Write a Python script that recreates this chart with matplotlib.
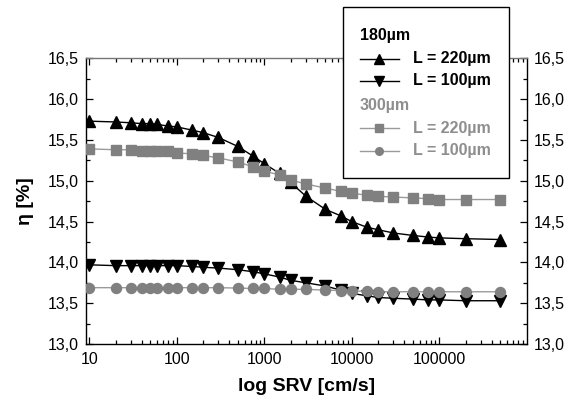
import numpy as np
import matplotlib
matplotlib.use("Agg")
import matplotlib.pyplot as plt
from matplotlib.lines import Line2D
from matplotlib.patches import Rectangle
from matplotlib.ticker import FixedLocator, LogLocator, NullFormatter, FuncFormatter, MultipleLocator

plt.rcParams['font.family'] = ['Liberation Sans', 'DejaVu Sans']

# SRV values [cm/s]
srv = [10, 20, 30, 40, 50, 60, 80, 100, 150, 200, 300, 500, 750, 1000, 1500, 2000,
       3000, 5000, 7500, 10000, 15000, 20000, 30000, 50000, 75000, 100000, 200000, 500000]

# 180 µm wafer
eta_180_L220 = [15.73, 15.72, 15.71, 15.70, 15.70, 15.69, 15.67, 15.66, 15.62, 15.59, 15.53,
                15.42, 15.30, 15.21, 15.09, 14.98, 14.81, 14.65, 14.57, 14.50, 14.43, 14.40,
                14.36, 14.33, 14.31, 14.30, 14.29, 14.28]
eta_180_L100 = [13.97, 13.96, 13.96, 13.96, 13.96, 13.96, 13.96, 13.96, 13.95, 13.94, 13.93,
                13.91, 13.885, 13.86, 13.82, 13.78, 13.75, 13.71, 13.66, 13.62, 13.59, 13.57,
                13.56, 13.55, 13.54, 13.54, 13.53, 13.53]

# 300 µm wafer
eta_300_L220 = [15.39, 15.38, 15.38, 15.37, 15.37, 15.37, 15.36, 15.34, 15.33, 15.31, 15.28,
                15.23, 15.17, 15.12, 15.07, 15.01, 14.96, 14.91, 14.87, 14.85, 14.82, 14.81,
                14.80, 14.79, 14.78, 14.77, 14.77, 14.77]
eta_300_L100 = [13.69, 13.69, 13.69, 13.69, 13.69, 13.69, 13.69, 13.69, 13.69, 13.69, 13.69,
                13.685, 13.68, 13.68, 13.67, 13.67, 13.67, 13.66, 13.655, 13.65, 13.645, 13.64,
                13.64, 13.64, 13.64, 13.64, 13.64, 13.64]

x_ticks = [10, 100, 1000, 10000, 100000]

W, H = 576, 401
BLACK = 'black'
GRAY = '#808080'
GRAY_LINE = '#9a9a9a'
GRAY_TEXT = '#8e8e8e'

fig = plt.figure(figsize=(W / 100, H / 100), dpi=100)
ax = fig.add_axes([86 / W, 1 - 344 / H, (526.7 - 86) / W, (344 - 58.3) / H])

ax.plot(srv, eta_180_L220, color=BLACK, lw=1.0, marker='^', ms=8.5, mec=BLACK, zorder=3)
ax.plot(srv, eta_180_L100, color=BLACK, lw=1.0, marker='v', ms=8.5, mec=BLACK, zorder=3)
ax.plot(srv, eta_300_L220, color=GRAY_LINE, lw=1.0, marker='s', ms=7.5, mfc=GRAY, mec=GRAY, zorder=4)
ax.plot(srv, eta_300_L100, color=GRAY_LINE, lw=1.0, marker='o', ms=7.2, mfc=GRAY, mec=GRAY, zorder=4)

ax.set_xscale('log')
ax.set_xlim(9.2, 1e6)
ax.set_ylim(13.0, 16.5)

ax.xaxis.set_major_locator(FixedLocator(x_ticks))
ax.xaxis.set_major_formatter(FuncFormatter(lambda v, p: f"{int(round(v))}"))
ax.xaxis.set_minor_locator(LogLocator(base=10, subs=np.arange(2, 10), numticks=20))
ax.xaxis.set_minor_formatter(NullFormatter())

ax.yaxis.set_major_locator(MultipleLocator(0.5))
ax.yaxis.set_minor_locator(MultipleLocator(0.25))
ax.yaxis.set_major_formatter(FuncFormatter(lambda v, p: f"{v:.1f}".replace('.', ',')))

ax.tick_params(which='both', direction='in', top=True, right=True, labelright=True,
               labelsize=11.5, width=0.9, color=BLACK)
ax.tick_params(which='major', length=5, pad=5)
ax.tick_params(which='minor', length=3)
ax.tick_params(axis='x', pad=6)

for side in ['left', 'right', 'bottom']:
    ax.spines[side].set_linewidth(1.0)
ax.spines['top'].set_color('#777777')
ax.spines['top'].set_linewidth(1.0)

ax.set_xlabel('log SRV [cm/s]', fontsize=14, fontweight='bold', labelpad=8)
ax.set_ylabel('η [%]', fontsize=14, fontweight='bold', labelpad=10)


# legend drawn by hand in figure pixel coordinates
def fx(px):
    return px / W


def fy(py):
    return 1 - py / H


fig.patches.append(Rectangle((fx(343.3), fy(177.7)), fx(509.3) - fx(343.3), fy(7.3) - fy(177.7),
                             transform=fig.transFigure, facecolor='white', edgecolor=BLACK,
                             linewidth=1.0, zorder=10))

rows = [
    ('180µm', None, None, BLACK, 35.7),
    ('L = 220µm', '^', BLACK, BLACK, 58.5),
    ('L = 100µm', 'v', BLACK, BLACK, 81.0),
    ('300µm', None, None, GRAY_TEXT, 105.5),
    ('L = 220µm', 's', GRAY, GRAY_TEXT, 128.3),
    ('L = 100µm', 'o', GRAY, GRAY_TEXT, 151.0),
]
for label, mk, mcol, tcol, py in rows:
    if mk is None:
        fig.text(fx(360), fy(py), label, color=tcol, fontsize=11.5, fontweight='bold',
                 ha='left', va='center', zorder=11)
        continue
    lcol = BLACK if mcol == BLACK else GRAY_LINE
    fig.add_artist(Line2D([fx(360), fx(398.5)], [fy(py), fy(py)], transform=fig.transFigure,
                          color=lcol, lw=1.0, zorder=11))
    fig.add_artist(Line2D([fx(379)], [fy(py)], transform=fig.transFigure, marker=mk,
                          ms=6.5 if mk in '^v' else 5.5, color=mcol, mec=mcol, ls='none', zorder=12))
    fig.text(fx(413), fy(py), label, color=tcol, fontsize=11.5, fontweight='bold',
             ha='left', va='center', zorder=11)

fig.savefig('out.png', dpi=100)
